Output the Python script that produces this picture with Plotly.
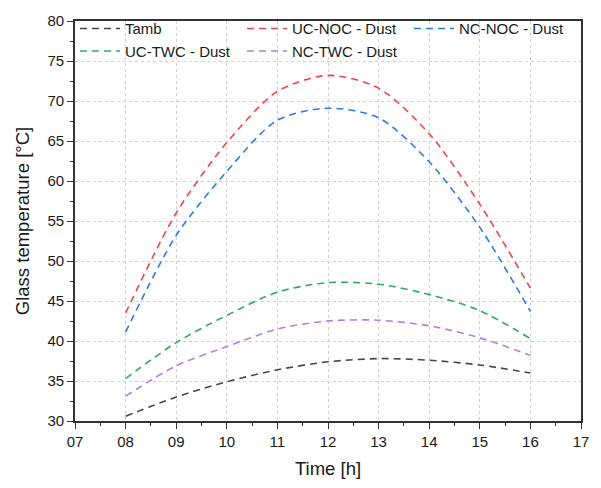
import plotly.graph_objects as go

# Hourly glass temperature readings, 08:00 to 16:00
hours = [8, 9, 10, 11, 12, 13, 14, 15, 16]

tamb = [30.6, 33.0, 34.9, 36.4, 37.4, 37.8, 37.6, 37.0, 36.0]
uc_noc_dust = [43.5, 56.0, 64.8, 71.2, 73.2, 71.6, 65.9, 57.1, 46.6]
nc_noc_dust = [41.1, 53.2, 61.2, 67.6, 69.1, 67.9, 62.4, 54.2, 43.7]
uc_twc_dust = [35.3, 39.8, 43.2, 46.1, 47.3, 47.1, 45.8, 43.8, 40.3]
nc_twc_dust = [33.1, 36.9, 39.3, 41.5, 42.5, 42.6, 41.9, 40.4, 38.2]

series_names = ["Tamb", "UC-NOC - Dust", "NC-NOC - Dust", "UC-TWC - Dust", "NC-TWC - Dust"]
series_values = [tamb, uc_noc_dust, nc_noc_dust, uc_twc_dust, nc_twc_dust]
series_colors = ["#474747", "#F24444", "#2C7BE5", "#2EAA62", "#B27EE8"]

x_ticks = list(range(7, 18))
x_tick_labels = [f"{h:02d}" for h in x_ticks]
y_ticks = list(range(30, 81, 5))

FONT = "Liberation Sans, Arial, sans-serif"

fig = go.Figure()
for name, vals, col in zip(series_names, series_values, series_colors):
    fig.add_trace(go.Scatter(
        x=hours, y=vals, name=name, mode="lines",
        line=dict(color=col, width=1.6, dash="7px,5px", shape="spline", smoothing=0.8),
    ))

axis_common = dict(
    showline=True, linecolor="#333333", linewidth=1.6, mirror=True,
    ticks="outside", ticklen=6, tickwidth=1.3, tickcolor="#333333",
    showgrid=True, gridcolor="#d0d0d0", griddash="dot", gridwidth=1,
    zeroline=False,
    tickfont=dict(family=FONT, size=15, color="#1a1a1a"),
    minor=dict(ticks="outside", ticklen=3.5, tickwidth=1.3, tickcolor="#333333", showgrid=False),
)

fig.update_xaxes(
    range=[7, 17], tickvals=x_ticks, ticktext=x_tick_labels,
    title=dict(text="Time [h]", font=dict(family=FONT, size=18.5, color="#1a1a1a"), standoff=13),
    **axis_common,
)
fig.update_yaxes(
    range=[30, 80], tickvals=y_ticks,
    title=dict(text="Glass temperature [°C]", font=dict(family=FONT, size=18.5, color="#1a1a1a"), standoff=13),
    **axis_common,
)
fig.update_xaxes(minor_dtick=0.5, minor_tick0=7)
fig.update_yaxes(minor_dtick=2.5, minor_tick0=30)

fig.update_layout(
    width=601, height=488,
    margin=dict(l=75, r=17, t=15, b=66),
    paper_bgcolor="white", plot_bgcolor="white",
    font=dict(family=FONT, color="#1a1a1a"),
    showlegend=True,
    legend=dict(
        orientation="h", x=0.0, xanchor="left", y=1.022, yanchor="top",
        entrywidth=112, entrywidthmode="pixels",
        bgcolor="rgba(0,0,0,0)", font=dict(family=FONT, size=15, color="#1a1a1a"),
        tracegroupgap=0, itemwidth=40,
    ),
)

fig.write_html("out.html")
